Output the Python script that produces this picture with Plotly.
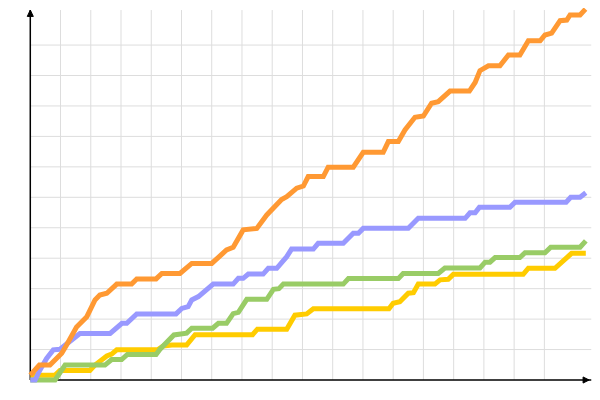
import plotly.graph_objects as go

# ---- data (grid units) ----
orange_x = [0, 0.30, 0.65, 1.04, 1.20, 1.53, 1.87, 2.14, 2.30, 2.53, 2.86, 3.35, 3.52, 4.16, 4.35, 4.95,
            5.34, 6.00, 6.49, 6.71, 7.04, 7.49, 7.82, 8.31, 8.48, 8.81, 9.03, 9.19, 9.69, 9.85, 10.68,
            11.01, 11.67, 11.84, 12.17, 12.39, 12.72, 13.00, 13.27, 13.49, 13.88, 14.52, 14.71, 14.87,
            15.15, 15.53, 15.81, 16.19, 16.47, 16.86, 17.02, 17.24, 17.52, 17.74, 17.85, 18.18, 18.36]
orange_y = [0.16, 0.49, 0.49, 0.88, 1.15, 1.74, 2.08, 2.63, 2.79, 2.85, 3.15, 3.15, 3.32, 3.32, 3.50, 3.50,
            3.83, 3.83, 4.27, 4.36, 4.93, 4.98, 5.42, 5.93, 6.02, 6.30, 6.37, 6.68, 6.68, 6.99, 6.99,
            7.48, 7.48, 7.83, 7.83, 8.21, 8.63, 8.67, 9.09, 9.14, 9.49, 9.49, 9.77, 10.16,
            10.32, 10.32, 10.67, 10.67, 11.14, 11.14, 11.33, 11.39, 11.80, 11.82, 11.99, 11.99, 12.18]

blue_x = [0, 0.16, 0.32, 0.54, 0.76, 0.98, 1.64, 2.64, 3.03, 3.19, 3.52, 4.82, 5.01, 5.22, 5.34, 5.56,
          6.05, 6.71, 6.88, 7.04, 7.21, 7.70, 7.87, 8.15, 8.48, 8.64, 9.36, 9.52, 10.35, 10.68, 10.85,
          11.01, 12.50, 12.83, 14.38, 14.54, 14.71, 14.85, 15.86, 16.03, 17.72, 17.87, 18.18, 18.37]
blue_y = [0, 0, 0.33, 0.71, 0.99, 1.01, 1.53, 1.53, 1.86, 1.86, 2.17, 2.17, 2.35, 2.41, 2.63, 2.74,
          3.15, 3.15, 3.34, 3.34, 3.48, 3.48, 3.67, 3.67, 4.05, 4.30, 4.30, 4.49, 4.49, 4.82, 4.82,
          4.98, 4.98, 5.31, 5.31, 5.49, 5.49, 5.67, 5.67, 5.84, 5.84, 6.00, 6.00, 6.15]

green_x = [0, 0.82, 1.15, 2.47, 2.69, 3.02, 3.21, 4.16, 4.29, 4.75, 5.17, 5.34, 6.03, 6.22, 6.49, 6.71,
           6.88, 7.16, 7.82, 8.04, 8.22, 8.37, 10.35, 10.52, 12.17, 12.33, 13.49, 13.71, 14.87, 15.04,
           15.20, 15.37, 16.19, 16.36, 17.02, 17.21, 18.18, 18.37]
green_y = [0, 0, 0.49, 0.49, 0.67, 0.67, 0.84, 0.84, 1.01, 1.48, 1.54, 1.70, 1.70, 1.86, 1.86, 2.18,
           2.22, 2.65, 2.65, 2.98, 3.00, 3.15, 3.15, 3.33, 3.33, 3.50, 3.50, 3.68, 3.68, 3.87,
           3.87, 4.02, 4.02, 4.18, 4.18, 4.36, 4.36, 4.57]

yellow_x = [0, 0.82, 0.98, 1.97, 2.14, 2.36, 2.53, 2.69, 2.86, 4.21, 4.40, 4.68, 5.17, 5.45, 7.35, 7.51,
            8.48, 8.75, 9.14, 9.36, 11.86, 12.00, 12.22, 12.50, 12.67, 12.83, 13.38, 13.55, 13.82, 13.99,
            16.30, 16.47, 17.35, 17.90, 18.37]
yellow_y = [0.16, 0.16, 0.31, 0.31, 0.49, 0.66, 0.79, 0.85, 0.99, 0.99, 1.12, 1.15, 1.15, 1.49, 1.49, 1.67,
            1.67, 2.13, 2.17, 2.34, 2.34, 2.52, 2.57, 2.85, 2.87, 3.15, 3.15, 3.29, 3.31, 3.47,
            3.47, 3.67, 3.67, 4.16, 4.16]

series = [
    ("yellow", yellow_x, yellow_y, "#FFCC00"),
    ("green", green_x, green_y, "#99CC66"),
    ("blue", blue_x, blue_y, "#9999FF"),
    ("orange", orange_x, orange_y, "#FF9933"),
]

X_END = 18.55   # right end of axis (grid units)
Y_END = 12.15   # top end of axis
x_grid = list(range(1, 18))
y_grid = list(range(1, 12))

fig = go.Figure()
for name, xs, ys, col in series:
    fig.add_trace(go.Scatter(x=xs, y=ys, mode="lines", name=name,
                             line=dict(color=col, width=5), hoverinfo="skip"))

shapes = []
for gx in x_grid:
    shapes.append(dict(type="line", xref="x", yref="y", x0=gx, x1=gx, y0=0, y1=Y_END,
                       line=dict(color="#DDDDDD", width=1), layer="below"))
for gy in y_grid:
    shapes.append(dict(type="line", xref="x", yref="y", x0=0, x1=X_END, y0=gy, y1=gy,
                       line=dict(color="#DDDDDD", width=1), layer="below"))
# axes
shapes.append(dict(type="line", xref="x", yref="y", x0=0, x1=X_END, y0=0, y1=0,
                   line=dict(color="black", width=1.5), layer="below"))
shapes.append(dict(type="line", xref="x", yref="y", x0=0, x1=0, y0=0, y1=Y_END,
                   line=dict(color="black", width=1.5), layer="below"))
# arrow heads
shapes.append(dict(type="path", xref="x", yref="y",
                   path="M 18.28 -0.1 L 18.48 0 L 18.28 0.1 Z",
                   fillcolor="black", line=dict(color="black", width=1)))
shapes.append(dict(type="path", xref="x", yref="y",
                   path="M -0.1 11.94 L 0 12.15 L 0.1 11.94 Z",
                   fillcolor="black", line=dict(color="black", width=1)))

# page body has an 8px default margin; figure sized to fit the 600x400 window
fig.update_layout(
    width=592, height=392,
    margin=dict(l=17, r=5, t=0, b=15),
    paper_bgcolor="white", plot_bgcolor="white",
    showlegend=False,
    shapes=shapes,
    xaxis=dict(range=[-0.175, 18.674], visible=False, fixedrange=True),
    yaxis=dict(range=[-0.164, 12.217], visible=False, fixedrange=True),
)

fig.write_html("out.html")
